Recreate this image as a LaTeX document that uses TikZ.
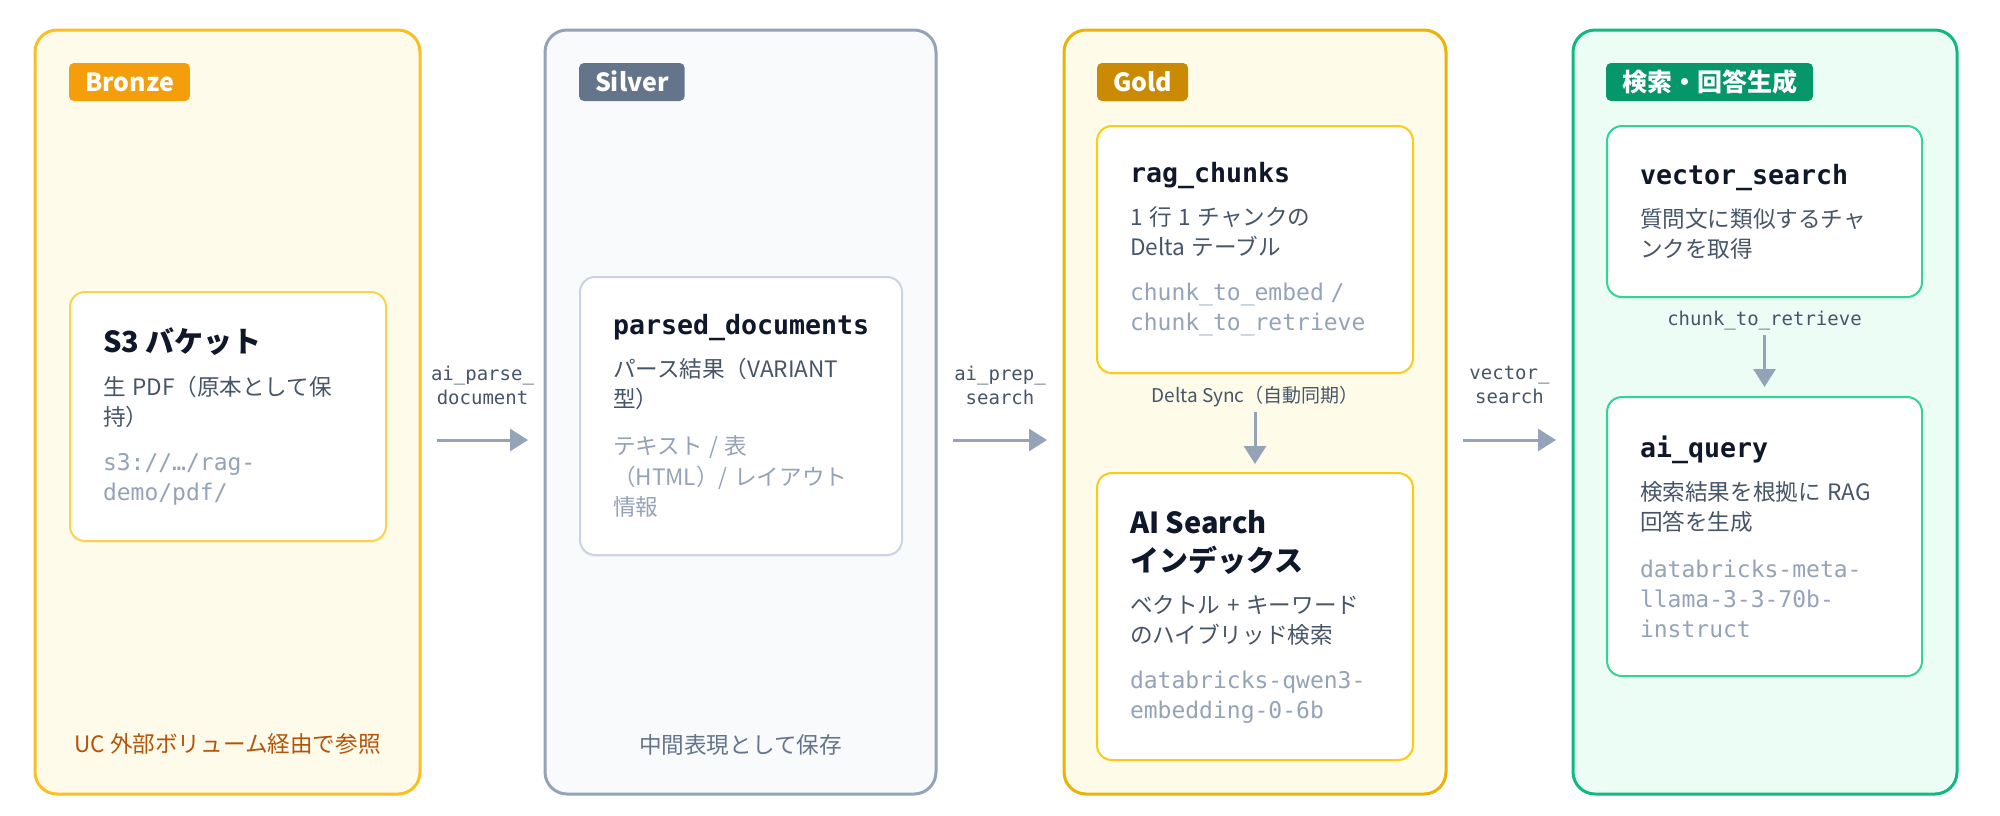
\documentclass[tikz,border=0pt]{standalone}
\usepackage{fontspec}
\setmainfont{Noto Sans CJK JP}
\setmonofont{DejaVu Sans Mono}
\usepackage{tikz}
\usetikzlibrary{arrows.meta,calc,positioning,shadows}

\definecolor{ink}{HTML}{0F172A}
\definecolor{slatetext}{HTML}{475569}
\definecolor{slatemuted}{HTML}{94A3B8}
\definecolor{arrowgray}{HTML}{94A3B8}
\definecolor{bronzeline}{HTML}{FBBF24}
\definecolor{bronzefill}{HTML}{FFFBEB}
\definecolor{bronzebadge}{HTML}{F59E0B}
\definecolor{bronzecard}{HTML}{FCD34D}
\definecolor{bronzenote}{HTML}{B45309}
\definecolor{silverline}{HTML}{94A3B8}
\definecolor{silverfill}{HTML}{F8FAFC}
\definecolor{silverbadge}{HTML}{64748B}
\definecolor{silvercard}{HTML}{CBD5E1}
\definecolor{goldline}{HTML}{EAB308}
\definecolor{goldfill}{HTML}{FEFCE8}
\definecolor{goldbadge}{HTML}{CA8A04}
\definecolor{goldcard}{HTML}{FACC15}
\definecolor{greenline}{HTML}{10B981}
\definecolor{greenfill}{HTML}{ECFDF5}
\definecolor{greenbadge}{HTML}{059669}
\definecolor{greencard}{HTML}{34D399}

\newcommand{\titlesans}{\fontsize{14.5}{19}\selectfont\bfseries\color{ink}}
\newcommand{\titlemono}{\fontsize{13.3}{19}\selectfont\ttfamily\bfseries\color{ink}}
\newcommand{\bodytext}{\fontsize{11.3}{15}\selectfont\color{slatetext}}
\newcommand{\mutedtext}{\fontsize{11.3}{15.25}\selectfont\color{slatemuted}}
\newcommand{\codetext}{\fontsize{11.5}{15}\selectfont\ttfamily\color{slatemuted}}

\tikzset{
  layer/.style={draw=#1line, fill=#1fill, line width=1.5pt, rounded corners=11pt,
                outer sep=0pt, minimum height=382pt},
  badge/.style={fill=#1badge, text=white, rounded corners=2.5pt, outer sep=0pt,
                font=\fontsize{12.5}{15}\selectfont\bfseries, inner xsep=8pt, inner ysep=0pt,
                text height=9pt, text depth=0pt, minimum height=19pt},
  card/.style={draw=#1card, fill=white, line width=1pt, rounded corners=7.5pt,
               outer sep=0pt, inner xsep=16.5pt, inner ysep=2pt, align=left,
               drop shadow={shadow xshift=0pt, shadow yshift=-1pt, opacity=0.06}},
  flow/.style={draw=arrowgray, line width=1.5pt, -{Triangle[length=9pt,width=11pt]},
               shorten <=8.5pt, shorten >=8.5pt},
  flowlabel/.style={font=\fontsize{9.5}{12}\selectfont\ttfamily, text=slatetext, align=center},
  synclabel/.style={font=\fontsize{9.5}{12}\selectfont, text=slatetext, inner sep=0pt,
                    text height=7pt, text depth=2pt, minimum height=15pt, outer sep=0pt},
  note/.style={font=\fontsize{11.3}{15}\selectfont},
}

\begin{document}
\begin{tikzpicture}[x=0.5pt,y=-0.5pt]
%
  \useasboundingbox (0,0) rectangle (2000,815);
  \fill [white] (0,0) rectangle (2000,815);
  \coordinate (flowy) at (0,440);
%
% layers
  \node (bronze) [layer=bronze, minimum width=192.5pt] at (227.5,412) {};
  \node (silver) [layer=silver, minimum width=195.5pt] at (740.5,412) {};
  \node (gold)   [layer=gold,   minimum width=191pt]   at (1255,412)  {};
  \node (green)  [layer=green,  minimum width=192pt]   at (1765,412)  {};
%
  \node (bronzetag) [badge=bronze, below right=16.5pt and 17pt of bronze.north west] {Bronze};
  \node (silvertag) [badge=silver, below right=16.5pt and 17pt of silver.north west] {Silver};
  \node (goldtag)   [badge=gold,   below right=16.5pt and 16.5pt of gold.north west] {Gold};
  \node (greentag)  [badge=green,  below right=16.5pt and 16.5pt of green.north west] {検索・回答生成};
%
% cards
  \node (s3) [card=bronze, minimum width=158pt, minimum height=124.5pt, text width=125pt]
    at (228,416.5) {
    {\titlesans S3 バケット\par}\vspace{6.5pt}
    {\bodytext 生 PDF（原本として保\\持）\par}\vspace{7.5pt}
    {\codetext s3://…/rag-\\demo/pdf/\par}};
%
  \node (parsed) [card=silver, minimum width=161pt, minimum height=139pt, text width=128pt]
    at (741,416) {
    {\titlemono parsed\_documents\par}\vspace{6.5pt}
    {\bodytext パース結果（VARIANT\\型）\par}\vspace{8.5pt}
    {\mutedtext テキスト / 表\\（HTML）/ レイアウト\\情報\par}};
%
  \node (rag) [card=gold, minimum width=158pt, minimum height=123.5pt, text width=125pt]
    at (1255,249.5) {
    {\titlemono rag\_chunks\par}\vspace{6.5pt}
    {\bodytext 1 行 1 チャンクの\\Delta テーブル\par}\vspace{7.5pt}
    {\codetext chunk\_to\_embed /\\chunk\_to\_retrieve\par}};
%
  \node (aisearch) [card=gold, minimum width=158pt, minimum height=143.5pt, text width=125pt]
    at (1255,616.5) {
    {\titlesans AI Search\\インデックス\par}\vspace{6pt}
    {\bodytext ベクトル + キーワード\\のハイブリッド検索\par}\vspace{7.5pt}
    {\codetext databricks-qwen3-\\embedding-0-6b\par}};
%
  \node (vsearch) [card=green, minimum width=157.5pt, minimum height=85.5pt, text width=124.5pt]
    at (1764.5,211.5) {
    {\titlemono vector\_search\par}\vspace{6.5pt}
    {\bodytext 質問文に類似するチャ\\ンクを取得\par}};
%
  \node (aiquery) [card=green, minimum width=157.5pt, minimum height=139.5pt, text width=124.5pt]
    at (1764.5,536.5) {
    {\titlemono ai\_query\par}\vspace{6.5pt}
    {\bodytext 検索結果を根拠に RAG\\回答を生成\par}\vspace{8.5pt}
    {\codetext databricks-meta-\\llama-3-3-70b-\\instruct\par}};
%
% notes at the bottom of the layers
  \node (bronzenote) [note, text=bronzenote] at ([yshift=25pt]bronze.south) {UC 外部ボリューム経由で参照};
  \node (silvernote) [note, text=silverbadge] at ([yshift=24.5pt]silver.south) {中間表現として保存};
%
% flows between layers
  \draw [flow] (bronze.east |- flowy) -- (silver.west |- flowy)
    node [flowlabel, midway, yshift=27.5pt] {ai\_parse\_\\document};
  \draw [flow] (silver.east |- flowy) -- (gold.west |- flowy)
    node [flowlabel, midway, yshift=27.5pt] {ai\_prep\_\\search};
  \draw [flow] (gold.east |- flowy) -- (green.west |- flowy)
    node [flowlabel, midway, yshift=27.5pt] {vector\_\\search};
%
% flows inside layers
  \node (sync) [synclabel, below=4.5pt of rag] {Delta Sync（自動同期）};
  \draw [flow, shorten <=0pt, shorten >=4.5pt] (sync) -- (aisearch);
%
  \node (retrieve) [synclabel, font=\fontsize{9.5}{12}\selectfont\ttfamily, below=4pt of vsearch] {chunk\_to\_retrieve};
  \draw [flow, shorten <=0pt, shorten >=5pt] (retrieve) -- (aiquery);
%
\end{tikzpicture}
\end{document}
